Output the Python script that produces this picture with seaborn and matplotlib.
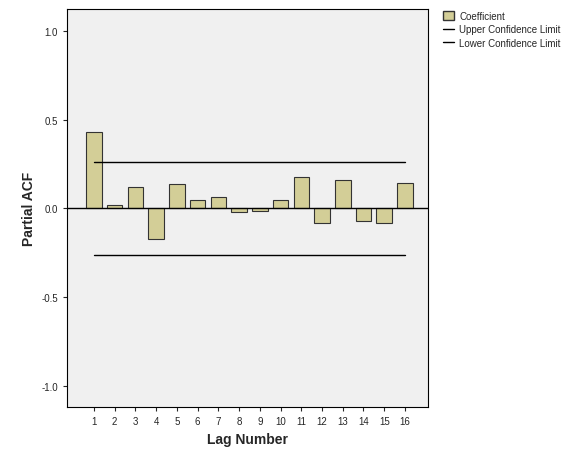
import matplotlib
matplotlib.use("Agg")
import matplotlib.pyplot as plt
import seaborn as sns
import pandas as pd
from matplotlib.patches import Patch
from matplotlib.lines import Line2D

lags = list(range(1, 17))
pacf = [0.43, 0.02, 0.12, -0.17, 0.14, 0.05, 0.065, -0.02, -0.015, 0.045, 0.175, -0.08, 0.16, -0.07, -0.08, 0.145]
upper = 0.26
lower = -0.26

sns.set_style("white")
plt.rcParams['font.family'] = ['Liberation Sans', 'DejaVu Sans']
fig = plt.figure(figsize=(5.8, 4.64), dpi=100)
ax = fig.add_axes([0.1155, 0.1207, 0.622, 0.858])
ax.set_facecolor('#F0F0F0')
df = pd.DataFrame({'lag': [str(l) for l in lags], 'pacf': pacf})
bar = '#D3CE97'
sns.barplot(data=df, x='lag', y='pacf', color=bar, edgecolor='#333333', linewidth=0.8, width=0.75, saturation=1, ax=ax)
ax.plot([0, 15], [upper, upper], color='black', lw=1)
ax.plot([0, 15], [lower, lower], color='black', lw=1)
ax.axhline(0, color='black', lw=1)
ax.set_xlim(-1.3, 16.1)
ax.set_ylim(-1.118, 1.124)
ax.set_yticks([-1.0, -0.5, 0.0, 0.5, 1.0])
ax.set_yticklabels(['-1.0', '-0.5', '0.0', '0.5', '1.0'])
ax.tick_params(axis='both', labelsize=7, length=3, left=True, bottom=True)
ax.set_xlabel('Lag Number', fontsize=10, fontweight='bold')
ax.set_ylabel('Partial ACF', fontsize=10, fontweight='bold')
for s in ax.spines.values():
    s.set_color('black'); s.set_linewidth(0.8)
handles = [Patch(facecolor=bar, edgecolor='#333333', label='Coefficient'),
           Line2D([0], [0], color='black', lw=1, label='Upper Confidence Limit'),
           Line2D([0], [0], color='black', lw=1, label='Lower Confidence Limit')]
fig.legend(handles=handles, loc='upper left', bbox_to_anchor=(0.755, 0.985), frameon=False,
           fontsize=7, handlelength=1.2, handleheight=0.9, labelspacing=0.35, borderpad=0, handletextpad=0.5)
fig.savefig('out.png', dpi=100)
